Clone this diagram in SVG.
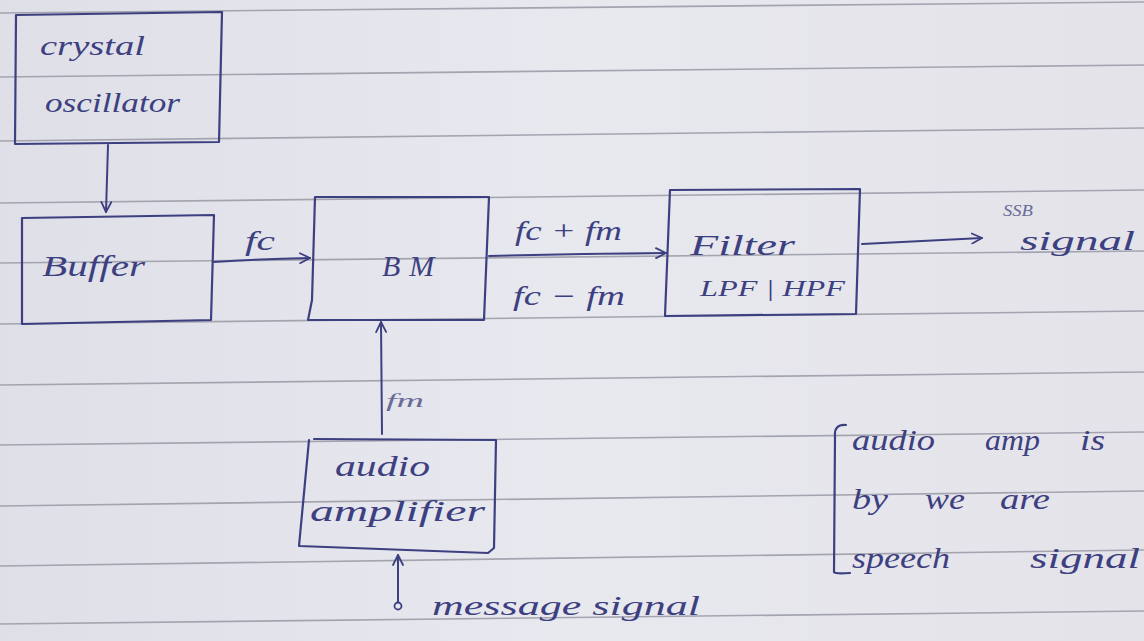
<svg xmlns="http://www.w3.org/2000/svg" width="1144" height="641" viewBox="0 0 1144 641">
  <defs>
    <linearGradient id="paper" x1="0" y1="0" x2="1" y2="0">
      <stop offset="0" stop-color="#dfdfe8"/>
      <stop offset="0.5" stop-color="#e8e8ef"/>
      <stop offset="1" stop-color="#e4e3ea"/>
    </linearGradient>
    <marker id="vhead" viewBox="0 0 12 12" refX="11" refY="6" markerWidth="12" markerHeight="12" markerUnits="userSpaceOnUse" orient="auto">
      <path d="M1,1 L11,6 L1,11" fill="none" stroke="#3d4080" stroke-width="1.8" stroke-linecap="round" stroke-linejoin="round"/>
    </marker>
    <style>
      .rule { stroke: #a4a4b0; stroke-width: 1.6; fill: none; }
      .ink { stroke: #3d4080; stroke-width: 2.2; fill: none; stroke-linecap: round; stroke-linejoin: round; }
      .wire { stroke: #3d4080; stroke-width: 2; fill: none; stroke-linecap: round; marker-end: url(#vhead); }
      .hand { font-family: "Liberation Serif", serif; font-style: italic; fill: #3d4080; }
      .note { font-size: 29px; }
      .faint { fill: #6a6c98; }
    </style>
  </defs>

  <!-- notebook paper -->
  <rect width="1144" height="641" fill="url(#paper)"/>
  <g id="ruling">
    <path class="rule" d="M0,13 L1144,2"/>
    <path class="rule" d="M0,77 L1144,65"/>
    <path class="rule" d="M0,141 L1144,128"/>
    <path class="rule" d="M0,203 L1144,190"/>
    <path class="rule" d="M0,263 L1144,251"/>
    <path class="rule" d="M0,324 L1144,311"/>
    <path class="rule" d="M0,385 L1144,372"/>
    <path class="rule" d="M0,445 L1144,432"/>
    <path class="rule" d="M0,506 L1144,491"/>
    <path class="rule" d="M0,566 L1144,550"/>
    <path class="rule" d="M0,624 L1144,611"/>
  </g>

  <!-- signal paths -->
  <g id="connectors">
    <path class="wire" d="M108,145 L106,212"/>
    <path class="wire" d="M214,262 Q260,259 310,258"/>
    <path class="wire" d="M489,256 Q570,254 666,253"/>
    <path class="wire" d="M862,244 Q920,241 982,238"/>
    <path class="wire" d="M382,434 L381,322"/>
    <circle cx="398" cy="606" r="3.5" fill="none" stroke="#3d4080" stroke-width="1.8"/>
    <path class="wire" d="M398,602 L398,555"/>
  </g>

  <g id="crystal-oscillator">
    <path class="ink" d="M16,15 L222,12 L219,142 L15,144 Z"/>
    <text class="hand" x="40" y="55" font-size="28" textLength="105" lengthAdjust="spacingAndGlyphs">crystal</text>
    <text class="hand" x="45" y="112" font-size="28" textLength="135" lengthAdjust="spacingAndGlyphs">oscillator</text>
  </g>

  <g id="buffer">
    <path class="ink" d="M22,218 L214,215 L211,320 L22,324 Z"/>
    <text class="hand" x="42" y="276" font-size="30" textLength="103" lengthAdjust="spacingAndGlyphs">Buffer</text>
  </g>

  <g id="label-fc">
    <text class="hand" x="245" y="250" font-size="28" textLength="30" lengthAdjust="spacingAndGlyphs">fc</text>
  </g>

  <g id="balanced-modulator">
    <path class="ink" d="M315,197 L489,197 L484,320 L308,320 L312,300 Z"/>
    <text class="hand" x="382" y="276" font-size="30" font-style="normal" letter-spacing="9">BM</text>
  </g>

  <g id="sidebands">
    <text class="hand" x="515" y="240" font-size="27" textLength="107" lengthAdjust="spacingAndGlyphs">fc + fm</text>
    <text class="hand" x="513" y="305" font-size="27" textLength="112" lengthAdjust="spacingAndGlyphs">fc − fm</text>
  </g>

  <g id="filter">
    <path class="ink" d="M670,190 L860,189 L856,314 L665,316 Z"/>
    <text class="hand" x="690" y="255" font-size="29" textLength="105" lengthAdjust="spacingAndGlyphs">Filter</text>
    <text class="hand" x="700" y="296" font-size="23" textLength="145" lengthAdjust="spacingAndGlyphs">LPF | HPF</text>
  </g>

  <g id="ssb-output">
    <text class="hand faint" x="1003" y="216" font-size="16" textLength="30" lengthAdjust="spacingAndGlyphs">SSB</text>
    <text class="hand" x="1020" y="250" font-size="28" textLength="115" lengthAdjust="spacingAndGlyphs">signal</text>
  </g>

  <g id="label-fm">
    <text class="hand faint" x="386" y="407" font-size="18" textLength="38" lengthAdjust="spacingAndGlyphs">fm</text>
  </g>

  <g id="audio-amplifier">
    <path class="ink" d="M314,439 L496,440 L494,548 L488,553 L299,546 L309,440"/>
    <text class="hand" x="335" y="476" font-size="30" textLength="95" lengthAdjust="spacingAndGlyphs">audio</text>
    <text class="hand" x="310" y="521" font-size="30" textLength="175" lengthAdjust="spacingAndGlyphs">amplifier</text>
  </g>

  <g id="message-input">
    <text class="hand" x="432" y="615" font-size="28" textLength="268" lengthAdjust="spacingAndGlyphs">message signal</text>
  </g>

  <g id="side-note">
    <path class="ink" d="M846,425 Q834,424 835,436 L834,572 Q834,574 850,573"/>
    <text class="hand note" x="852" y="450" textLength="83" lengthAdjust="spacingAndGlyphs">audio</text>
    <text class="hand note" x="985" y="450" textLength="55" lengthAdjust="spacingAndGlyphs">amp</text>
    <text class="hand note" x="1080" y="450" textLength="25" lengthAdjust="spacingAndGlyphs">is</text>
    <text class="hand note" x="852" y="509" textLength="36" lengthAdjust="spacingAndGlyphs">by</text>
    <text class="hand note" x="925" y="509" textLength="40" lengthAdjust="spacingAndGlyphs">we</text>
    <text class="hand note" x="1000" y="509" textLength="50" lengthAdjust="spacingAndGlyphs">are</text>
    <text class="hand note" x="852" y="568" textLength="98" lengthAdjust="spacingAndGlyphs">speech</text>
    <text class="hand note" x="1030" y="568" textLength="110" lengthAdjust="spacingAndGlyphs">signal</text>
  </g>
</svg>
